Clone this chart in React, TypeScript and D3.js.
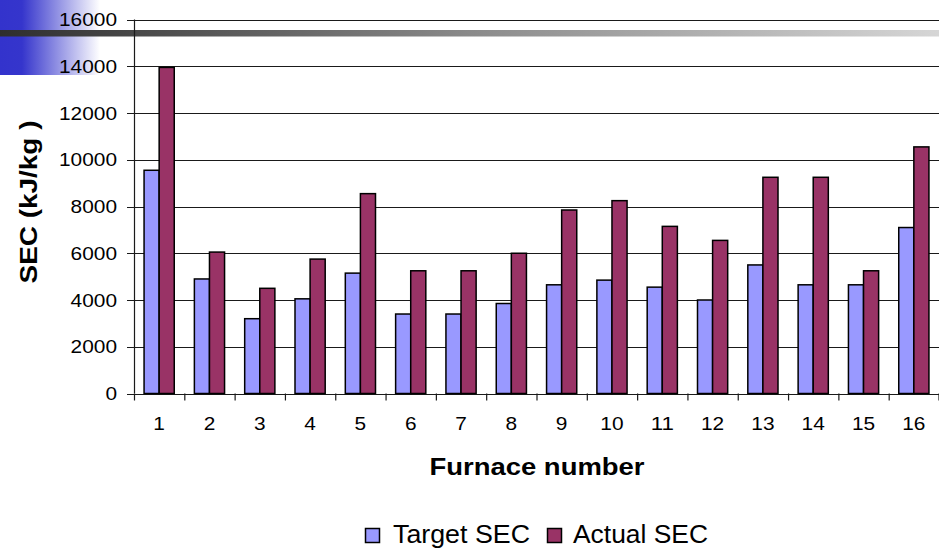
import React from 'react';
import * as d3 from 'd3';

const furnaces = ['1', '2', '3', '4', '5', '6', '7', '8', '9', '10', '11', '12', '13', '14', '15', '16'];
const targetSEC = [9550, 4900, 3200, 4050, 5150, 3400, 3400, 3850, 4650, 4850, 4550, 4000, 5500, 4650, 4650, 7100];
const actualSEC = [13950, 6050, 4500, 5750, 8550, 5250, 5250, 6000, 7850, 8250, 7150, 6550, 9250, 9250, 5250, 10550];
const yTicks = [0, 2000, 4000, 6000, 8000, 10000, 12000, 14000, 16000];
const seriesNames = ['Target SEC', 'Actual SEC'];
const seriesColors = ['#9999ff', '#993366'];

const W = 939;
const H = 549;
const left = 134;
const right = 939;
const top = 19.5;
const bottom = 393.5;

export default function App() {
  const x = d3.scaleBand<string>().domain(furnaces).range([left, right]).paddingInner(0.4).paddingOuter(0.2);
  const step = x.step();
  const xs = d3.scaleBand<string>().domain(seriesNames).range([0, x.bandwidth()]);
  const y = d3.scaleLinear().domain([0, 16000]).range([bottom, top]);
  const series = [targetSEC, actualSEC];
  const font = 'Arial, "Liberation Sans", sans-serif';

  return (
    <div style={{ position: 'fixed', left: 0, top: 0 }}>
      <svg width={W} height={H} style={{ display: 'block', fontFamily: font }}>
        <defs>
          <linearGradient id="blueFade" x1="0" x2="1" y1="0" y2="0">
            <stop offset="0" stopColor="#3333cc" />
            <stop offset="0.22" stopColor="#3535cc" />
            <stop offset="1" stopColor="#ffffff" />
          </linearGradient>
          <linearGradient id="greyFade" x1="0" x2="1" y1="0" y2="0">
            <stop offset="0" stopColor="#2e2e2e" />
            <stop offset="0.5" stopColor="#8a8a8a" />
            <stop offset="1" stopColor="#d6d6d6" />
          </linearGradient>
        </defs>
        <rect x={0} y={0} width={W} height={H} fill="#fff" />
        <rect x={0} y={0} width={100} height={75} fill="url(#blueFade)" />
        <rect x={0} y={30} width={W} height={6.5} fill="url(#greyFade)" />

        {/* gridlines */}
        {yTicks.map((t) => (
          <g key={t}>
            <line x1={left - 7} x2={right} y1={Math.round(y(t)) + 0.5} y2={Math.round(y(t)) + 0.5} stroke="#1a1a1a" strokeWidth={1.2} />
            <text
              x={117}
              y={y(t)}
              dy="0.35em"
              textAnchor="end"
              fontSize={19}
              fill="#000"
              textLength={String(t).length * 11.6}
              lengthAdjust="spacingAndGlyphs"
            >
              {t}
            </text>
          </g>
        ))}
        <line x1={left + 0.5} x2={left + 0.5} y1={top} y2={bottom} stroke="#1a1a1a" strokeWidth={1.2} />

        {/* bars */}
        {series.map((vals, si) =>
          vals.map((v, i) => (
            <rect
              key={`${si}-${i}`}
              x={(x(furnaces[i]) as number) + (xs(seriesNames[si]) as number)}
              y={y(v)}
              width={xs.bandwidth()}
              height={bottom - y(v)}
              fill={seriesColors[si]}
              stroke="#000"
              strokeWidth={1.5}
            />
          ))
        )}

        {/* x ticks */}
        {furnaces.map((f, i) => (
          <g key={f}>
            <line x1={left + i * step + 0.5} x2={left + i * step + 0.5} y1={bottom} y2={bottom + 7} stroke="#1a1a1a" strokeWidth={1.2} />
            <text
              x={(x(f) as number) + x.bandwidth() / 2}
              y={430}
              textAnchor="middle"
              fontSize={19}
              fill="#000"
              textLength={f.length * 11.6}
              lengthAdjust="spacingAndGlyphs"
            >
              {f}
            </text>
          </g>
        ))}
        <line x1={right} x2={right} y1={bottom} y2={bottom + 7} stroke="#1a1a1a" strokeWidth={1.2} />

        <text x={537} y={475} textAnchor="middle" fontSize={23} fontWeight="bold" textLength={215} lengthAdjust="spacingAndGlyphs">
          Furnace number
        </text>
        <text
          transform="translate(37,202) rotate(-90)"
          textAnchor="middle"
          fontSize={23}
          fontWeight="bold"
          textLength={163}
          lengthAdjust="spacingAndGlyphs"
        >
          SEC (kJ/kg )
        </text>

        {/* legend */}
        {[
          { x: 365.5, tx: 393, tl: 137 },
          { x: 547.5, tx: 573, tl: 135 },
        ].map((l, i) => (
          <g key={seriesNames[i]}>
            <rect x={l.x} y={528.5} width={14} height={14} fill={seriesColors[i]} stroke="#000" strokeWidth={1.5} />
            <text x={l.tx} y={543} fontSize={25} textLength={l.tl} lengthAdjust="spacingAndGlyphs">
              {seriesNames[i]}
            </text>
          </g>
        ))}
      </svg>
    </div>
  );
}
